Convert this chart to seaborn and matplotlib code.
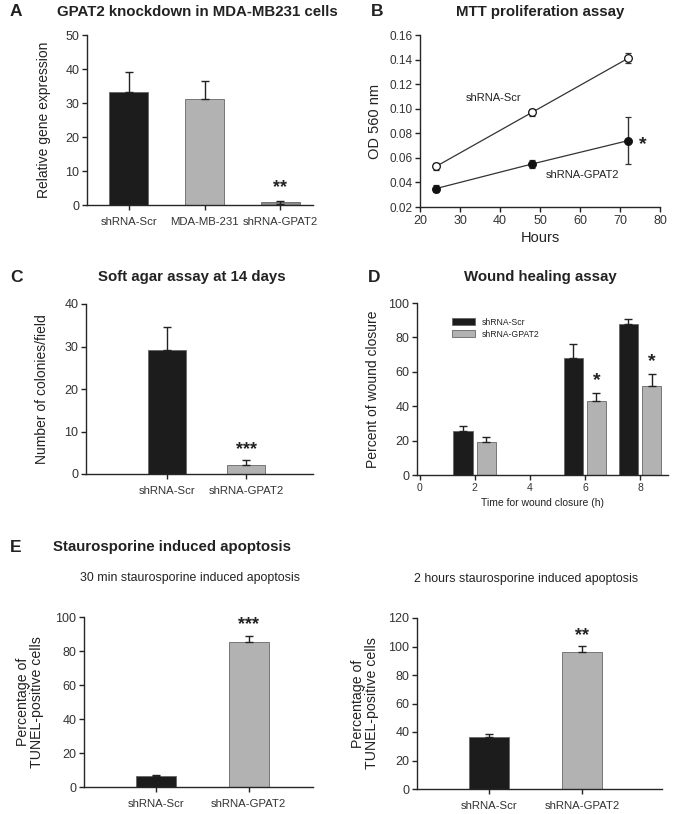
"""Multi-panel GPAT2 knockdown figure (A-E)."""

import matplotlib

matplotlib.use("Agg")
import matplotlib.pyplot as plt
import numpy as np
import pandas as pd
import seaborn as sns

# ---- data -----------------------------------------------------------------
# A: relative gene expression
a_groups = ["shRNA-Scr", "MDA-MB-231", "shRNA-GPAT2"]
a_values = [33.1, 31.3, 0.8]
a_errors = [6.0, 5.2, 0.5]

# B: MTT proliferation assay
b_hours = [24, 48, 72]
b_scr = [0.053, 0.097, 0.141]
b_scr_err = [0.003, 0.003, 0.004]
b_gpat2 = [0.035, 0.055, 0.074]
b_gpat2_err = [0.003, 0.003, 0.019]

# C: soft agar assay
c_groups = ["shRNA-Scr", "shRNA-GPAT2"]
c_values = [29.1, 2.1]
c_errors = [5.6, 1.1]

# D: wound healing assay
d_times = [2, 6, 8]
d_scr = [25.5, 68.2, 88.0]
d_scr_err = [3.0, 8.0, 2.8]
d_gpat2 = [19.0, 43.0, 51.5]
d_gpat2_err = [3.0, 4.6, 7.0]

# E: staurosporine induced apoptosis
e_groups = ["shRNA-Scr", "shRNA-GPAT2"]
e30_values = [6.2, 85.5]
e30_errors = [0.6, 3.5]
e2h_values = [36.5, 96.0]
e2h_errors = [2.2, 4.3]

BLACK = "#1c1c1c"
GRAY = "#b2b2b2"
TXT = "#222222"

sns.set_theme(style="ticks")
plt.rcParams["font.family"] = ["Liberation Sans", "DejaVu Sans"]
plt.rcParams["axes.linewidth"] = 1.0
plt.rcParams["xtick.color"] = "#222222"
plt.rcParams["ytick.color"] = "#222222"

W, H = 674, 814
fig = plt.figure(figsize=(W / 100, H / 100), dpi=100)


def add_ax(left, right, top, bottom):
    return fig.add_axes([left / W, 1 - bottom / H, (right - left) / W, (bottom - top) / H])


def style_ax(ax, tick_size=9):
    sns.despine(ax=ax)
    ax.tick_params(axis="both", labelsize=tick_size, labelcolor="#333333",
                   length=3.5, width=1.0, direction="out", pad=2)


def bar_errors(ax, errors, two_sided=None):
    # error bars at the centre/top of each seaborn bar
    bars = [p for p in ax.patches if p.get_height() > 0]
    for i, (p, e) in enumerate(zip(bars, errors)):
        x = p.get_x() + p.get_width() / 2
        y = p.get_height()
        low = e if (two_sided and two_sided[i]) else 0
        ax.errorbar(x, y, yerr=[[low], [e]], fmt="none", ecolor="#222222",
                    elinewidth=1.0, capsize=3, capthick=1.0, zorder=3)


# ---- panel A --------------------------------------------------------------
ax = add_ax(87, 313, 35, 205)
df_a = pd.DataFrame({"group": a_groups, "value": a_values})
sns.barplot(data=df_a, x="group", y="value", hue="group",
            palette=[BLACK, GRAY, "#8c8c8c"], width=0.52,
            edgecolor="#666666", linewidth=0.6, legend=False, ax=ax)
bar_errors(ax, a_errors, two_sided=[False, False, True])
ax.set_xlim(-0.55, 2.43)
ax.set_ylim(0, 50)
ax.set_yticks([0, 10, 20, 30, 40, 50])
style_ax(ax)
ax.tick_params(axis="x", labelsize=8.2, pad=5)
ax.set_xlabel("")
ax.set_ylabel("Relative gene expression", fontsize=10, color=TXT, labelpad=10)
ax.text(2, a_values[2] + a_errors[2] + 1.3, "**", ha="center", va="bottom",
        fontsize=13, fontweight="bold", color=TXT)

# ---- panel B --------------------------------------------------------------
ax = add_ax(420, 660, 35, 207)
df_b = pd.DataFrame({
    "hours": b_hours * 2,
    "od": b_scr + b_gpat2,
    "err": b_scr_err + b_gpat2_err,
    "line": ["shRNA-Scr"] * 3 + ["shRNA-GPAT2"] * 3,
})
sns.lineplot(data=df_b, x="hours", y="od", hue="line", palette=["#333333", "#333333"],
             linewidth=0.9, legend=False, ax=ax, zorder=2)
for name, face in [("shRNA-Scr", "white"), ("shRNA-GPAT2", "#111111")]:
    sub = df_b[df_b["line"] == name]
    ax.errorbar(sub["hours"], sub["od"], yerr=sub["err"], fmt="o", ms=5.5,
                mfc=face, mec="#111111", mew=0.9, ecolor="#333333",
                elinewidth=1.0, capsize=2.5, capthick=1.0, zorder=3)
ax.set_xlim(20, 80)
ax.set_ylim(0.02, 0.16)
ax.set_xticks(range(20, 81, 10))
ax.set_yticks(np.arange(0.02, 0.161, 0.02))
ax.yaxis.set_major_formatter(matplotlib.ticker.FormatStrFormatter("%.2f"))
style_ax(ax, 8.5)
ax.tick_params(axis="x", labelsize=9)
ax.set_xlabel("Hours", fontsize=10.5, color=TXT, labelpad=3)
ax.set_ylabel("OD 560 nm", fontsize=10.5, color=TXT, labelpad=5)
ax.text(38.5, 0.109, "shRNA-Scr", ha="center", va="center", fontsize=8, color=TXT)
ax.text(60.5, 0.046, "shRNA-GPAT2", ha="center", va="center", fontsize=8, color=TXT)
ax.text(75.7, 0.071, "*", ha="center", va="center", fontsize=14, fontweight="bold", color=TXT)

# ---- panel C --------------------------------------------------------------
ax = add_ax(86, 313, 304, 474)
df_c = pd.DataFrame({"group": c_groups, "value": c_values})
sns.barplot(data=df_c, x="group", y="value", hue="group", palette=[BLACK, GRAY],
            width=0.49, edgecolor="#666666", linewidth=0.6, legend=False, ax=ax)
bar_errors(ax, c_errors)
ax.set_xlim(-1.03, 1.85)
ax.set_ylim(0, 40)
ax.set_yticks([0, 10, 20, 30, 40])
style_ax(ax)
ax.tick_params(axis="x", labelsize=8.2, pad=5)
ax.set_xlabel("")
ax.set_ylabel("Number of colonies/field", fontsize=10, color=TXT, labelpad=11)
ax.text(1, c_values[1] + c_errors[1] + 0.6, "***", ha="center", va="bottom",
        fontsize=13, fontweight="bold", color=TXT)

# ---- panel D --------------------------------------------------------------
ax = add_ax(417, 667.5, 303, 475)
df_d = pd.DataFrame({
    "time": d_times * 2,
    "pct": d_scr + d_gpat2,
    "group": ["shRNA-Scr"] * 3 + ["shRNA-GPAT2"] * 3,
})
sns.barplot(data=df_d, x="time", y="pct", hue="group", palette=[BLACK, GRAY],
            native_scale=True, width=0.84, gap=0.15, edgecolor="#666666",
            linewidth=0.6, ax=ax)
bar_errors(ax, d_scr_err + d_gpat2_err)
ax.set_xlim(-0.1, 9.0)
ax.set_ylim(0, 100)
ax.set_xticks([0, 2, 4, 6, 8])
ax.set_yticks([0, 20, 40, 60, 80, 100])
style_ax(ax)
ax.tick_params(axis="x", labelsize=7.5)
ax.set_xlabel("Time for wound closure (h)", fontsize=7.5, color=TXT, labelpad=4)
ax.set_ylabel("Percent of wound closure", fontsize=10, color=TXT, labelpad=6)
leg = ax.legend(loc="upper left", bbox_to_anchor=(0.11, 0.96), frameon=False,
                fontsize=6.2, handlelength=2.6, handleheight=0.9, labelspacing=0.35,
                handletextpad=0.8)
for t in leg.get_texts():
    t.set_color(TXT)
for t, v, e in zip(d_times[1:], d_gpat2[1:], d_gpat2_err[1:]):
    ax.text(t + 0.42, v + e + 2.5, "*", ha="center", va="bottom",
            fontsize=14, fontweight="bold", color=TXT)

# ---- panel E (left) -------------------------------------------------------
ax = add_ax(84, 313, 617, 787)
df_e1 = pd.DataFrame({"group": e_groups, "value": e30_values})
sns.barplot(data=df_e1, x="group", y="value", hue="group", palette=[BLACK, GRAY],
            width=0.43, edgecolor="#666666", linewidth=0.6, legend=False, ax=ax)
bar_errors(ax, e30_errors)
ax.set_xlim(-0.77, 1.69)
ax.set_ylim(0, 100)
ax.set_yticks([0, 20, 40, 60, 80, 100])
style_ax(ax)
ax.tick_params(axis="x", labelsize=8.2, pad=5)
ax.set_xlabel("")
ax.set_ylabel("Percentage of\nTUNEL-positive cells", fontsize=10.2, color=TXT,
              labelpad=8, linespacing=1.0)
ax.text(1, e30_values[1] + e30_errors[1] + 1.5, "***", ha="center", va="bottom",
        fontsize=13, fontweight="bold", color=TXT)

# ---- panel E (right) ------------------------------------------------------
ax = add_ax(417, 662, 618, 789)
df_e2 = pd.DataFrame({"group": e_groups, "value": e2h_values})
sns.barplot(data=df_e2, x="group", y="value", hue="group", palette=[BLACK, GRAY],
            width=0.43, edgecolor="#666666", linewidth=0.6, legend=False, ax=ax)
bar_errors(ax, e2h_errors)
ax.set_xlim(-0.77, 1.86)
ax.set_ylim(0, 120)
ax.set_yticks([0, 20, 40, 60, 80, 100, 120])
style_ax(ax)
ax.tick_params(axis="x", labelsize=8.2, pad=5)
ax.set_xlabel("")
ax.set_ylabel("Percentage of\nTUNEL-positive cells", fontsize=10.2, color=TXT,
              labelpad=7, linespacing=1.0)
ax.text(1, e2h_values[1] + e2h_errors[1] + 1.5, "**", ha="center", va="bottom",
        fontsize=13, fontweight="bold", color=TXT)

# ---- titles and panel letters ---------------------------------------------
def fig_text(x, y, s, **kw):
    fig.text(x / W, 1 - y / H, s, ha=kw.pop("ha", "center"), va="center", color=TXT, **kw)


fig_text(10, 12, "A", fontsize=12.5, fontweight="bold", ha="left")
fig_text(197, 12, "GPAT2 knockdown in MDA-MB231 cells", fontsize=10.8, fontweight="bold")
fig_text(371, 12, "B", fontsize=12.5, fontweight="bold", ha="left")
fig_text(540, 12, "MTT proliferation assay", fontsize=10.8, fontweight="bold")
fig_text(10, 277, "C", fontsize=12.5, fontweight="bold", ha="left")
fig_text(192, 277, "Soft agar assay at 14 days", fontsize=10.8, fontweight="bold")
fig_text(368, 277, "D", fontsize=12.5, fontweight="bold", ha="left")
fig_text(540, 277, "Wound healing assay", fontsize=10.8, fontweight="bold")
fig_text(10, 547, "E", fontsize=12.5, fontweight="bold", ha="left")
fig_text(172, 547, "Staurosporine induced apoptosis", fontsize=10.8, fontweight="bold")
fig_text(190, 578, "30 min staurosporine induced apoptosis", fontsize=8.9)
fig_text(526, 579, "2 hours staurosporine induced apoptosis", fontsize=8.9)

fig.savefig("out.png", dpi=100)
